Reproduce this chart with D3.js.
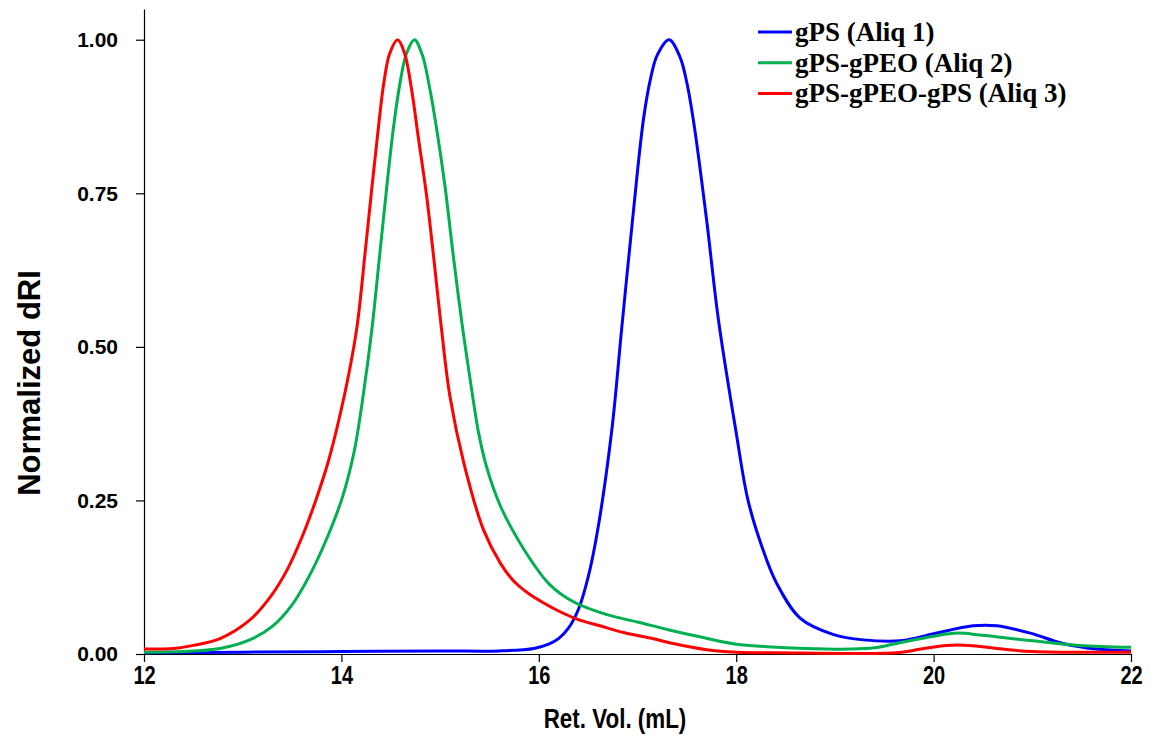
<!DOCTYPE html>
<html>
<head>
<meta charset="utf-8">
<script src="https://cdn.jsdelivr.net/npm/d3@7"></script>
<style>
  body { margin: 0; background: #fff; }
  .tick text { font-family: Arial, "Liberation Sans", sans-serif; font-weight: bold; }
</style>
</head>
<body>
<div id="chart"></div>
<script>
// GPC traces, [ret. vol (mL), normalized dRI]
const gPS = [
  [12.0, 0.002], [13.0, 0.003], [14.0, 0.004], [15.0, 0.005], [15.6, 0.005],
  [15.95, 0.009], [16.1, 0.016], [16.2, 0.025], [16.3, 0.042], [16.4, 0.072],
  [16.5, 0.125], [16.6, 0.205], [16.74, 0.365], [16.84, 0.53], [16.95, 0.707],
  [17.06, 0.87], [17.13, 0.935], [17.2, 0.975], [17.32, 1.0], [17.43, 0.972],
  [17.5, 0.93], [17.57, 0.865], [17.70, 0.707], [17.82, 0.544], [18.0, 0.36],
  [18.12, 0.25], [18.26, 0.175], [18.41, 0.115], [18.65, 0.058], [18.98, 0.032],
  [19.29, 0.023], [19.69, 0.022], [20.0, 0.033], [20.4, 0.046], [20.64, 0.046],
  [20.98, 0.034], [21.31, 0.017], [21.65, 0.008], [22.0, 0.005]
];

const gPS_gPEO = [
  [12.0, 0.003], [12.4, 0.004], [12.77, 0.009], [13.07, 0.023], [13.3, 0.045],
  [13.5, 0.08], [13.7, 0.135], [13.87, 0.195], [14.01, 0.255], [14.13, 0.33],
  [14.22, 0.42], [14.31, 0.53], [14.39, 0.653], [14.46, 0.761], [14.53, 0.86],
  [14.6, 0.935], [14.66, 0.978], [14.74, 1.0], [14.82, 0.975], [14.89, 0.925],
  [14.96, 0.86], [15.05, 0.761], [15.13, 0.653], [15.22, 0.54], [15.32, 0.43],
  [15.39, 0.36], [15.47, 0.305], [15.6, 0.245], [15.74, 0.2], [15.94, 0.148],
  [16.11, 0.113], [16.35, 0.085], [16.69, 0.064], [17.0, 0.052], [17.3, 0.04],
  [17.63, 0.028], [18.0, 0.016], [18.31, 0.012], [18.7, 0.009], [19.15, 0.008],
  [19.4, 0.01], [19.62, 0.017], [20.0, 0.029], [20.24, 0.034], [20.47, 0.031],
  [20.98, 0.022], [21.48, 0.014], [22.0, 0.011]
];

const gPS_gPEO_gPS = [
  [12.0, 0.008], [12.3, 0.009], [12.5, 0.014], [12.77, 0.025], [13.07, 0.055],
  [13.28, 0.093], [13.45, 0.137], [13.6, 0.19], [13.74, 0.25], [13.87, 0.315],
  [13.98, 0.385], [14.08, 0.46], [14.16, 0.535], [14.24, 0.653], [14.31, 0.761],
  [14.37, 0.85], [14.43, 0.93], [14.49, 0.978], [14.57, 1.0], [14.64, 0.978],
  [14.71, 0.92], [14.78, 0.84], [14.86, 0.75], [14.93, 0.653], [15.01, 0.535],
  [15.1, 0.419], [15.24, 0.311], [15.44, 0.202], [15.61, 0.148], [15.75, 0.118],
  [15.9, 0.098], [16.05, 0.083], [16.2, 0.07], [16.4, 0.056], [16.62, 0.046],
  [16.86, 0.035], [17.13, 0.026], [17.36, 0.017], [17.7, 0.007], [18.0, 0.003],
  [18.4, 0.002], [19.62, 0.002], [19.87, 0.008], [20.13, 0.014], [20.36, 0.014],
  [20.64, 0.009], [21.0, 0.004], [22.0, 0.003]
];

const seriesNames = ["gPS (Aliq 1)", "gPS-gPEO (Aliq 2)", "gPS-gPEO-gPS (Aliq 3)"];
const seriesColors = ["#0000ff", "#00b050", "#ff0000"];
const xTicks = [12, 14, 16, 18, 20, 22];
const yTicks = [0, 0.25, 0.5, 0.75, 1.0];

const width = 1151, height = 744;

const x = d3.scaleLinear().domain([12, 22]).range([144, 1131]);
const y = d3.scaleLinear().domain([0, 1.05]).range([654, 9]);

const svg = d3.select("#chart").append("svg")
    .attr("width", width)
    .attr("height", height);

// axes
svg.append("g")
    .attr("transform", "translate(0,654)")
    .call(d3.axisBottom(x).tickValues(xTicks).tickSize(8).tickPadding(4).tickSizeOuter(0))
    .call(g => g.selectAll("text")
        .attr("font-size", 25)
        .attr("transform", "scale(0.8,1)")
        .attr("fill", "#000"));

svg.append("g")
    .attr("transform", "translate(144,0)")
    .call(d3.axisLeft(y).tickValues(yTicks).tickFormat(d3.format(".2f")).tickSize(8).tickPadding(18).tickSizeOuter(0))
    .call(g => g.selectAll("text").attr("font-size", 21).attr("fill", "#000"));

svg.selectAll(".domain").attr("stroke", "#000").attr("stroke-width", 1.2);
svg.selectAll(".tick line").attr("stroke", "#000").attr("stroke-width", 1.2);

// axis titles
svg.append("text")
    .attr("transform", "translate(615,728) scale(0.8,1)")
    .attr("text-anchor", "middle")
    .attr("font-family", "Arial, 'Liberation Sans', sans-serif")
    .attr("font-weight", "bold")
    .attr("font-size", 28)
    .text("Ret. Vol. (mL)");

svg.append("text")
    .attr("transform", "translate(40,383) rotate(-90)")
    .attr("text-anchor", "middle")
    .attr("font-family", "Arial, 'Liberation Sans', sans-serif")
    .attr("font-weight", "bold")
    .attr("font-size", 31)
    .text("Normalized dRI");

// traces
const line = d3.line()
    .x(d => x(d[0]))
    .y(d => y(d[1]))
    .curve(d3.curveCatmullRom.alpha(0.5));

const traces = [gPS, gPS_gPEO, gPS_gPEO_gPS];
svg.append("g").selectAll("path")
  .data(traces)
  .join("path")
    .attr("fill", "none")
    .attr("stroke", (d, i) => seriesColors[i])
    .attr("stroke-width", 3)
    .attr("stroke-linejoin", "round")
    .attr("d", line);

// legend
const legend = svg.append("g").selectAll("g")
  .data(seriesNames)
  .join("g")
    .attr("transform", (d, i) => "translate(758," + (32 + i * 30.7) + ")");

legend.append("line")
    .attr("x1", 0).attr("x2", 34)
    .attr("stroke", (d, i) => seriesColors[i])
    .attr("stroke-width", 3);

legend.append("text")
    .attr("x", 37)
    .attr("dy", "0.33em")
    .attr("font-family", "'Liberation Serif', 'Times New Roman', serif")
    .attr("font-weight", "bold")
    .attr("font-size", 27)
    .text(d => d);
</script>
</body>
</html>
